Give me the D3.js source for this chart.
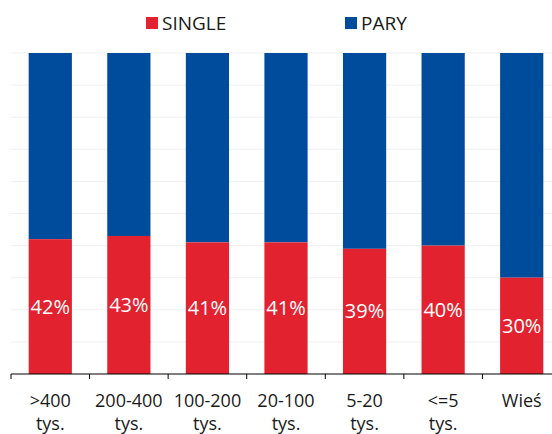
<!DOCTYPE html>
<html>
<head>
<meta charset="utf-8">
<script src="https://cdn.jsdelivr.net/npm/d3@7"></script>
<style>
  body { margin: 0; background: #fff; }
  svg text { font-family: "Open Sans", sans-serif; }
</style>
</head>
<body>
<div id="chart"></div>
<script>
// categories (two-line labels split by '|')
var categories = ['>400|tys.', '200-400|tys.', '100-200|tys.', '20-100|tys.', '5-20|tys.', '<=5|tys.', 'Wieś'];
// share of singles, percent
var single = [42, 43, 41, 41, 39, 40, 30];
// share of couples = rest
var pary = [58, 57, 59, 59, 61, 60, 70];
var seriesNames = ['SINGLE', 'PARY'];
var gridTicks = [10, 20, 30, 40, 50, 60, 70, 80, 90, 100];

var width = 552, height = 434;
var red = '#e3222f', blue = '#004c9c';

var svg = d3.select('#chart').append('svg')
    .attr('width', width)
    .attr('height', height);

var x = d3.scaleBand()
    .domain(categories)
    .range([11, 561])
    .paddingInner(0.45)
    .paddingOuter(0.225);

var y = d3.scaleLinear()
    .domain([0, 100])
    .range([374, 53]);

// faint gridlines
svg.append('g').selectAll('line')
    .data(gridTicks)
    .enter().append('line')
    .attr('x1', 11).attr('x2', width)
    .attr('y1', d => y(d)).attr('y2', d => y(d))
    .attr('stroke', '#f0f0f0')
    .attr('stroke-width', 1);

// bars
var rows = categories.map((c, i) => ({cat: c, single: single[i], pary: pary[i]}));

svg.append('g').selectAll('rect')
    .data(rows)
    .enter().append('rect')
    .attr('x', d => x(d.cat))
    .attr('width', x.bandwidth())
    .attr('y', d => y(d.single + d.pary))
    .attr('height', d => y(d.single) - y(d.single + d.pary))
    .attr('fill', blue);

svg.append('g').selectAll('rect')
    .data(rows)
    .enter().append('rect')
    .attr('x', d => x(d.cat))
    .attr('width', x.bandwidth())
    .attr('y', d => y(d.single))
    .attr('height', d => y(0) - y(d.single))
    .attr('fill', red);

// value labels inside red part
svg.append('g').selectAll('text')
    .data(rows)
    .enter().append('text')
    .attr('x', d => x(d.cat) + x.bandwidth() / 2)
    .attr('y', d => (y(0) + y(d.single)) / 2)
    .attr('dy', '0.35em')
    .attr('text-anchor', 'middle')
    .attr('fill', '#fff')
    .style('font-size', '20px')
    .style('font-weight', 500)
    .text(d => d.single + '%');

// x axis
var step = x.step();
var axis = svg.append('g').attr('transform', 'translate(0,374)');
axis.append('line')
    .attr('x1', 11).attr('x2', width)
    .attr('stroke', '#000').attr('stroke-width', 1.2);
axis.selectAll('.tick-mark')
    .data(categories)
    .enter().append('line')
    .attr('class', 'tick-mark')
    .attr('x1', d => x(d) - step * 0.225)
    .attr('x2', d => x(d) - step * 0.225)
    .attr('y1', 0).attr('y2', 5)
    .attr('stroke', '#000');

var labels = axis.selectAll('.lab')
    .data(categories)
    .enter().append('text')
    .attr('class', 'lab')
    .attr('text-anchor', 'middle')
    .attr('fill', '#1a1a1a')
    .style('font-size', '18px');
labels.each(function (d) {
    var parts = d.split('|');
    var t = d3.select(this);
    parts.forEach(function (p, i) {
        t.append('tspan')
            .attr('x', x(d) + x.bandwidth() / 2)
            .attr('y', 33 + i * 23)
            .text(p);
    });
});

// legend
var legendX = [146, 345];
var legend = svg.append('g');
seriesNames.forEach(function (name, i) {
    legend.append('rect')
        .attr('x', legendX[i]).attr('y', 17)
        .attr('width', 12).attr('height', 12)
        .attr('fill', i === 0 ? red : blue);
    legend.append('text')
        .attr('x', legendX[i] + 16).attr('y', 30)
        .attr('fill', '#1a1a1a')
        .style('font-size', '19px')
        .text(name);
});
</script>
</body>
</html>
